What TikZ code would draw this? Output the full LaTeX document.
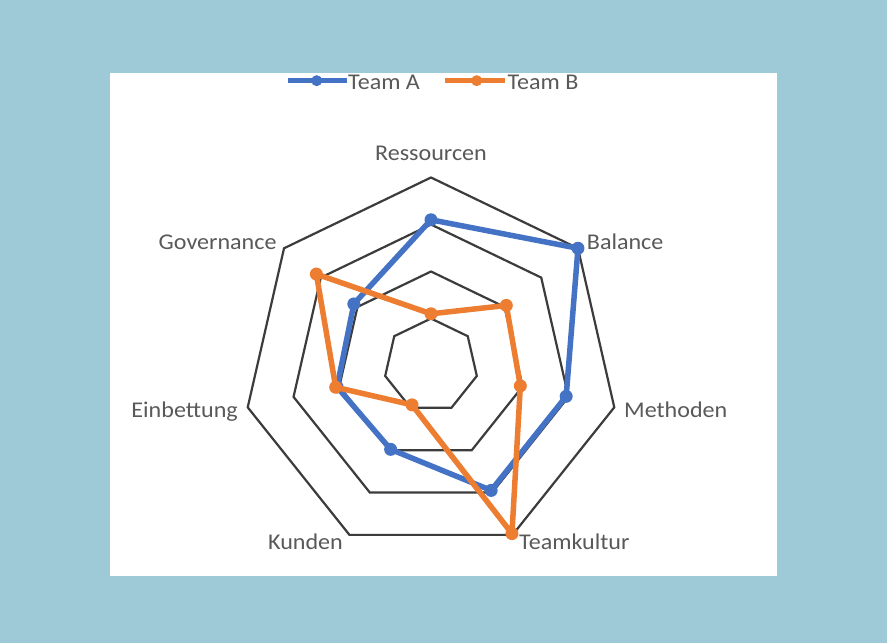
\documentclass[tikz,border=0pt]{standalone}
\usepackage{fontspec}
\setmainfont{Carlito}[FakeStretch=1.07]
\definecolor{bgblue}{RGB}{157,202,214}
\definecolor{gridc}{RGB}{60,60,60}
\definecolor{txt}{RGB}{89,89,89}
\definecolor{serA}{RGB}{68,114,196}
\definecolor{serB}{RGB}{237,125,49}
\begin{document}
\begin{tikzpicture}[x=1pt,y=1pt,
  lbl/.style={font=\fontsize{22.5}{27}\selectfont, text=txt, inner sep=0pt},
  gridline/.style={draw=gridc, line width=2.2pt, line join=miter},
  lineA/.style={draw=serA, line width=5.5pt, line join=round, line cap=round},
  lineB/.style={draw=serB, line width=5.5pt, line join=round, line cap=round},
  dotA/.style={fill=serA},
  dotB/.style={fill=serB},
  legline/.style={line width=5pt}
]
\fill[bgblue] (0,0) rectangle (887,643);
\fill[white] (110,569.7) rectangle (776.7,67);
\useasboundingbox (0,0) rectangle (887,643);
\coordinate (c) at (431,277.5);
\begin{scope}[shift={(c)}]
  \foreach \r in {47,94,141,188}{
    \draw[gridline] (90:\r) \foreach \k in {1,...,6}{ -- ({90-\k*360/7}:\r)} -- cycle;
  }
  \foreach \v [count=\k from 0] in {3.1,4,2.95,2.95,1.98,2.05,2.1}{
    \coordinate (a\k) at ({90-\k*360/7}:{\v*47});
  }
  \foreach \v [count=\k from 0] in {1.1,2.05,1.95,3.97,0.93,2.08,3.12}{
    \coordinate (b\k) at ({90-\k*360/7}:{\v*47});
  }
\end{scope}
\draw[lineA] (a0) -- (a1) -- (a2) -- (a3) -- (a4) -- (a5) -- (a6) -- cycle;
\foreach \k in {0,...,6}{ \fill[dotA] (a\k) circle (6.5); }
\draw[lineB] (b0) -- (b1) -- (b2) -- (b3) -- (b4) -- (b5) -- (b6) -- cycle;
\foreach \k in {0,...,6}{ \fill[dotB] (b\k) circle (6.5); }
% axis labels
\node[lbl, anchor=mid] (lRes) at (431,485) {Ressourcen};
\node[lbl, anchor=mid west] (lBal) at (586.7,395.5) {Balance};
\node[lbl, anchor=mid west] (lMet) at (624,228.3) {Methoden};
\node[lbl, anchor=mid west] (lTea) at (519,95.5) {Teamkultur};
\node[lbl, anchor=mid east] (lKun) at (343,95.5) {Kunden};
\node[lbl, anchor=mid east] (lEin) at (238,228.3) {Einbettung};
\node[lbl, anchor=mid east] (lGov) at (276.7,395.5) {Governance};
% legend
\coordinate (la1) at (288,562.3);
\coordinate (la2) at (346.7,562.3);
\coordinate (lam) at (316.7,562.3);
\coordinate (lb1) at (445,562.3);
\coordinate (lb2) at (505,562.3);
\coordinate (lbm) at (476.7,562.3);
\draw[serA, legline] (la1) -- (la2);
\fill[dotA] (lam) circle (5.5);
\draw[serB, legline] (lb1) -- (lb2);
\fill[dotB] (lbm) circle (5.5);
\node[lbl, anchor=mid west] (tA) at (348,555.5) {Team A};
\node[lbl, anchor=mid west] (tB) at (507.3,555.5) {Team B};
\end{tikzpicture}
\end{document}
